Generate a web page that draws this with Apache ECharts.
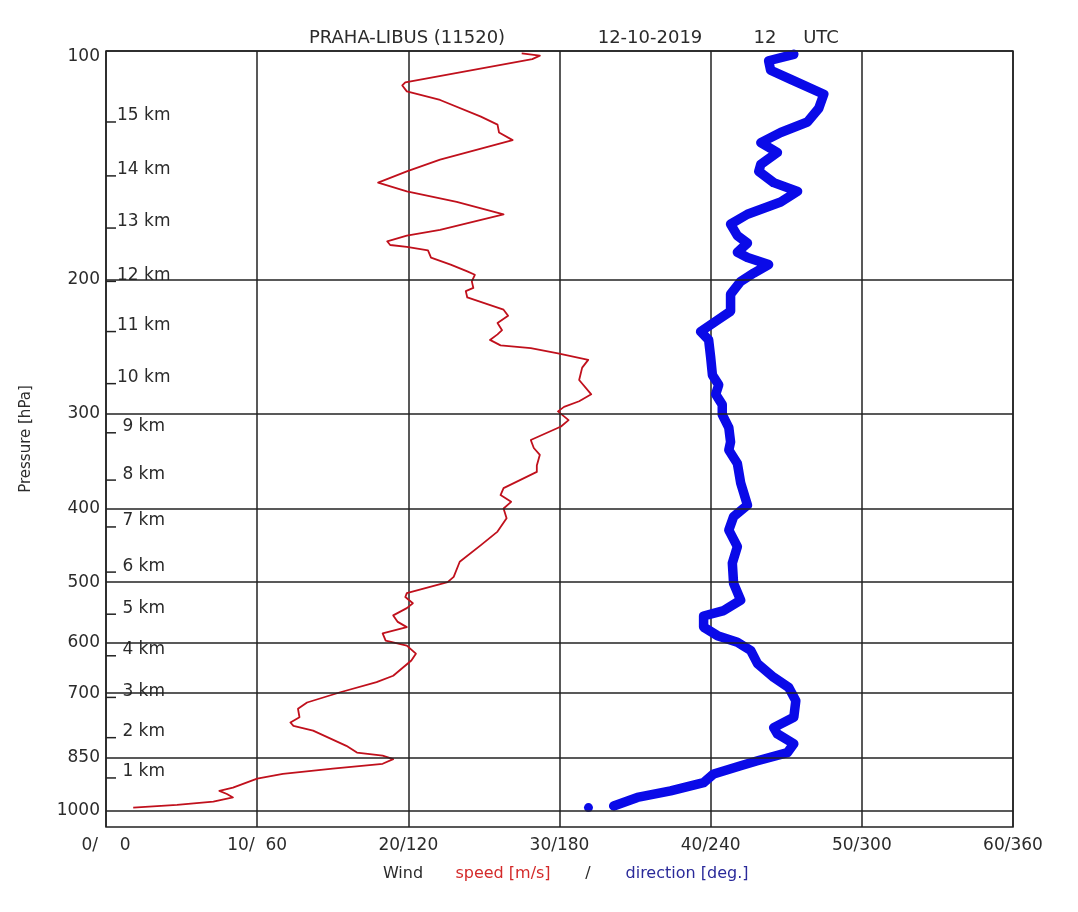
<!DOCTYPE html>
<html>
<head>
<meta charset="utf-8">
<script src="https://cdn.jsdelivr.net/npm/echarts@6/dist/echarts.min.js"></script>
<style>
  html, body { margin: 0; padding: 0; background: #ffffff; }
  #chart { width: 1078px; height: 912px; }
</style>
</head>
<body>
<div id="chart"></div>
<script>
// ---- Data ----
const pressureTicks = [100, 200, 300, 400, 500, 600, 700, 850, 1000];

const kmLabels   = ['15 km', '14 km', '13 km', '12 km', '11 km', '10 km', ' 9 km', ' 8 km', ' 7 km', ' 6 km', ' 5 km', ' 4 km', ' 3 km', ' 2 km', ' 1 km'];
const kmPressure = [124, 146, 171, 201, 234, 274, 318, 367, 423, 485, 551, 625, 709, 801, 905];

// wind speed [m/s] vs pressure [hPa]
const speedPressure = [100.7, 101.4, 102.5, 110, 111, 113, 116, 122, 125, 128, 131, 139, 144, 149, 153, 158, 164, 172, 175, 178, 180, 181, 183, 187, 191, 195, 197, 201, 205, 207, 211, 219, 223, 228, 233, 236, 240, 244, 246, 250, 255, 261, 271, 283, 289, 294, 298, 306, 312, 325, 333, 340, 351, 358, 376, 384, 392, 400, 412, 429, 447, 470, 492, 500, 517, 523, 533, 541, 553, 564, 573, 584, 597, 606, 621, 634, 664, 677, 698, 720, 734, 753, 765, 773, 784, 821, 838, 846, 855, 867, 880, 894, 907, 932, 941, 950, 960, 972, 982, 990];
const speedValues   = [27.5, 28.7, 28.2, 19.8, 19.6, 19.9, 22.1, 24.8, 25.9, 26.0, 26.9, 22.1, 19.9, 18.0, 19.9, 23.2, 26.3, 22.1, 19.9, 18.6, 18.8, 19.9, 21.3, 21.5, 22.8, 23.9, 24.4, 24.2, 24.3, 23.8, 23.9, 26.3, 26.6, 25.9, 26.2, 25.9, 25.4, 26.1, 28.1, 29.9, 31.9, 31.5, 31.3, 32.1, 31.3, 30.3, 29.9, 30.6, 30.1, 28.1, 28.3, 28.7, 28.5, 28.5, 26.3, 26.1, 26.8, 26.3, 26.5, 25.9, 24.8, 23.4, 23.0, 22.6, 19.9, 19.8, 20.3, 19.9, 19.0, 19.3, 19.9, 18.3, 18.5, 19.9, 20.5, 20.2, 19.0, 17.9, 15.5, 13.3, 12.7, 12.8, 12.2, 12.4, 13.7, 15.9, 16.6, 18.3, 19.0, 18.3, 15.0, 11.7, 10.0, 8.4, 7.5, 8.0, 8.4, 7.1, 4.7, 1.8];

// wind direction [deg] vs pressure [hPa]
const dirPressure = [101, 103, 106, 109, 114, 119, 124, 128, 132, 136, 141, 144, 149, 153, 158, 164, 169, 175, 179, 184, 187, 191, 196, 201, 209, 220, 226, 234, 240, 253, 267, 275, 283, 292, 301, 313, 327, 335, 349, 370, 396, 410, 427, 449, 472, 502, 528, 545, 554, 573, 588, 600, 615, 640, 667, 688, 716, 753, 777, 792, 816, 838, 859, 872, 894, 918, 941, 960, 985];
const dirValues   = [273.0, 263.0, 263.8, 271.8, 284.9, 282.9, 278.4, 267.8, 259.9, 266.5, 259.9, 259.1, 265.0, 274.5, 267.8, 254.6, 247.9, 250.6, 254.6, 250.6, 254.6, 263.0, 257.1, 251.9, 247.9, 247.9, 242.7, 236.0, 239.2, 240.0, 240.7, 243.2, 242.0, 244.6, 244.6, 247.2, 247.9, 247.2, 250.6, 251.9, 254.6, 249.1, 247.2, 250.6, 248.6, 249.1, 251.9, 245.2, 237.2, 237.2, 242.7, 250.6, 255.9, 258.6, 265.0, 271.0, 273.8, 273.0, 265.0, 266.5, 273.0, 270.5, 258.6, 251.9, 241.2, 237.2, 224.1, 210.9, 201.5];

// isolated surface direction point
const surfacePressure = [990];
const surfaceDir      = [191.5];

// ---- Chart ----
const FONT = 'DejaVu Sans';
const INK = '#222222';
const TXT = '#2b2b2b';
const FS = '\u2007';

const chart = echarts.init(document.getElementById('chart'), null, { renderer: 'canvas' });

const speedData = speedPressure.map((p, i) => [speedValues[i], p]);
const dirData = dirPressure.map((p, i) => [dirValues[i], p]);
const surfData = surfacePressure.map((p, i) => [surfaceDir[i], p]);
const kmData = kmPressure.map((p, i) => ({ name: kmLabels[i], value: [0, p] }));

const rs = (w, color, size) => ({ width: w, align: 'center', fontFamily: FONT, fontSize: size, fontWeight: 'normal', color: color });

const option = {
  backgroundColor: '#ffffff',
  animation: false,
  title: [
    {
      left: 262, top: 24,
      text: '{a|PRAHA-LIBUS (11520)}{b|12-10-2019}{c|12}{d|UTC}',
      textStyle: {
        fontWeight: 'normal',
        rich: { a: rs(280, TXT, 18), b: rs(206, TXT, 18), c: rs(24, TXT, 18), d: rs(88, TXT, 18) }
      }
    },
    {
      left: 360, top: 861,
      text: '{w|Wind}{s|speed [m/s]}{k|/}{d|direction [deg.]}',
      textStyle: {
        fontWeight: 'normal',
        rich: { w: rs(76, TXT, 16), s: rs(124, '#d42a2a', 16), k: rs(46, TXT, 16), d: rs(152, '#2a2a9a', 16) }
      }
    }
  ],
  grid: {
    left: 106, right: 65, top: 51, bottom: 85,
    show: true, borderColor: INK, borderWidth: 1.5, backgroundColor: 'transparent'
  },
  xAxis: [
    {
      type: 'value', min: 0, max: 60, interval: 10, position: 'bottom',
      axisLine: { show: false }, axisTick: { show: false },
      splitLine: { show: true, lineStyle: { color: INK, width: 1.5 } },
      axisLabel: {
        margin: 10, fontFamily: FONT, fontSize: 17, color: TXT,
        formatter: v => v + '/' + String(v * 6).padStart(3, FS)
      }
    },
    { type: 'value', min: 0, max: 360, show: false }
  ],
  yAxis: {
    type: 'log', logBase: 10, min: 100, max: 1050, inverse: true,
    axisLine: { show: false }, axisTick: { show: false },
    axisLabel: { show: false }, splitLine: { show: false },
    name: 'Pressure [hPa]', nameLocation: 'middle', nameGap: 72, nameRotate: 90,
    nameTextStyle: { fontFamily: FONT, fontSize: 15, color: TXT }
  },
  series: [
    {
      name: 'speed', type: 'line', xAxisIndex: 0, yAxisIndex: 0,
      data: speedData, showSymbol: false, symbol: 'none',
      lineStyle: { color: '#c0101c', width: 1.8, join: 'round' },
      z: 3,
      markLine: {
        silent: true, symbol: ['none', 'none'], animation: false,
        lineStyle: { color: INK, width: 1.5, type: 'solid', opacity: 1 },
        label: {
          show: true, position: 'start', distance: 6,
          fontFamily: FONT, fontSize: 17, color: TXT,
          formatter: p => String(p.value)
        },
        emphasis: { disabled: true },
        data: pressureTicks.map(p => ({ yAxis: p, label: p === 100 ? { offset: [0, 6] } : undefined }))
      }
    },
    {
      name: 'direction', type: 'line', xAxisIndex: 1, yAxisIndex: 0,
      data: dirData, showSymbol: false, symbol: 'none',
      lineStyle: { color: '#0a0ae8', width: 9.5, cap: 'round', join: 'round' },
      z: 4
    },
    {
      name: 'surface direction', type: 'scatter', xAxisIndex: 1, yAxisIndex: 0,
      data: surfData, symbol: 'circle', symbolSize: 9,
      itemStyle: { color: '#0a0ae8', opacity: 1 }, z: 4
    },
    {
      name: 'height', type: 'scatter', xAxisIndex: 0, yAxisIndex: 0,
      data: kmData, symbol: 'rect', symbolSize: [10, 1.5], symbolOffset: [5, 0],
      itemStyle: { color: INK, opacity: 1 }, silent: true, z: 2,
      label: {
        show: true, position: 'right', distance: 1, offset: [0, -6],
        fontFamily: FONT, fontSize: 17, color: TXT, opacity: 1,
        formatter: p => p.name
      }
    }
  ]
};

chart.setOption(option);
</script>
</body>
</html>
